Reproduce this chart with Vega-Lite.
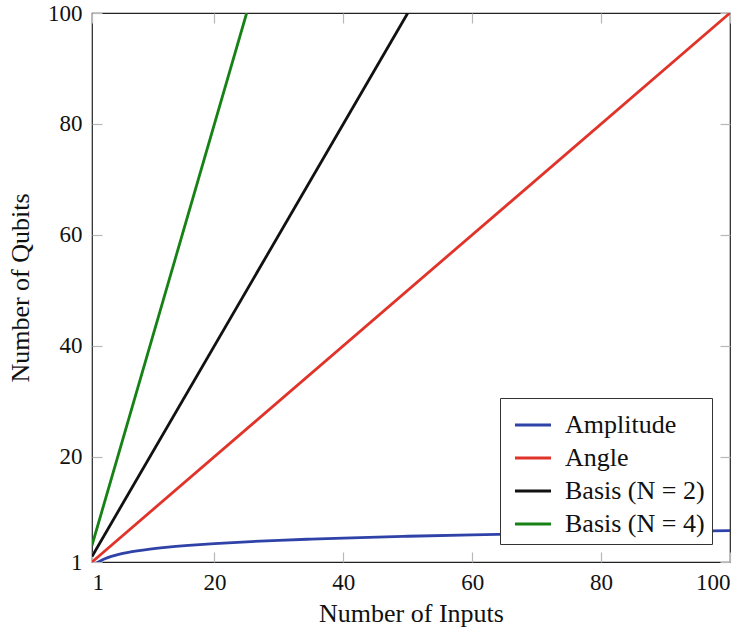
{
  "$schema": "https://vega.github.io/schema/vega-lite/v6.json",
  "autosize": "none",
  "width": 638,
  "height": 549,
  "padding": {"left": 92, "top": 13, "right": 19, "bottom": 69},
  "background": "white",
  "config": {
    "view": {"stroke": "#222", "strokeWidth": 1.2},
    "font": "Liberation Serif",
    "axis": {
      "domain": false,
      "grid": false,
      "tickColor": "#b8b8b8",
      "tickWidth": 1.2,
      "tickSize": -10,
      "labelFont": "Liberation Serif",
      "labelFontSize": 23,
      "labelColor": "#111",
      "titleFont": "Liberation Serif",
      "titleFontSize": 26,
      "titleFontWeight": "normal",
      "titleColor": "#111"
    }
  },
  "data": {"values": [
    {"series": "Amplitude", "n": 1, "q": 0},
    {"series": "Amplitude", "n": 1.5, "q": 0.585},
    {"series": "Amplitude", "n": 2, "q": 1},
    {"series": "Amplitude", "n": 2.5, "q": 1.322},
    {"series": "Amplitude", "n": 3, "q": 1.585},
    {"series": "Amplitude", "n": 4, "q": 2},
    {"series": "Amplitude", "n": 5, "q": 2.322},
    {"series": "Amplitude", "n": 6, "q": 2.585},
    {"series": "Amplitude", "n": 7, "q": 2.807},
    {"series": "Amplitude", "n": 8, "q": 3},
    {"series": "Amplitude", "n": 10, "q": 3.322},
    {"series": "Amplitude", "n": 12, "q": 3.585},
    {"series": "Amplitude", "n": 14, "q": 3.807},
    {"series": "Amplitude", "n": 16, "q": 4},
    {"series": "Amplitude", "n": 20, "q": 4.322},
    {"series": "Amplitude", "n": 25, "q": 4.644},
    {"series": "Amplitude", "n": 30, "q": 4.907},
    {"series": "Amplitude", "n": 35, "q": 5.129},
    {"series": "Amplitude", "n": 40, "q": 5.322},
    {"series": "Amplitude", "n": 50, "q": 5.644},
    {"series": "Amplitude", "n": 60, "q": 5.907},
    {"series": "Amplitude", "n": 70, "q": 6.129},
    {"series": "Amplitude", "n": 80, "q": 6.322},
    {"series": "Amplitude", "n": 90, "q": 6.492},
    {"series": "Amplitude", "n": 100, "q": 6.644},
    {"series": "Angle", "n": 1, "q": 1},
    {"series": "Angle", "n": 100, "q": 100},
    {"series": "Basis (N = 2)", "n": 1, "q": 2},
    {"series": "Basis (N = 2)", "n": 50, "q": 100},
    {"series": "Basis (N = 4)", "n": 1, "q": 4},
    {"series": "Basis (N = 4)", "n": 25, "q": 100}
  ]},
  "resolve": {"axis": {"x": "independent", "y": "independent"}},
  "layer": [
    {
      "mark": {"type": "line", "clip": true, "strokeWidth": 2.8, "interpolate": "monotone"},
      "encoding": {
        "x": {"field": "n", "type": "quantitative",
              "scale": {"domain": [1, 100], "nice": false, "zero": false},
              "axis": {"values": [1, 20, 40, 60, 80, 100], "title": "Number of Inputs", "labelPadding": 19, "titlePadding": 6}},
        "y": {"field": "q", "type": "quantitative",
              "scale": {"domain": [1, 100], "nice": false, "zero": false},
              "axis": {"values": [1, 20, 40, 60, 80, 100], "title": "Number of Qubits", "labelPadding": 20, "titlePadding": 14}},
        "color": {"field": "series", "type": "nominal",
                  "scale": {"domain": ["Amplitude", "Angle", "Basis (N = 2)", "Basis (N = 4)"],
                            "range": ["#2f42a8", "#e0332a", "#111111", "#168216"]},
                  "legend": {
                    "title": null,
                    "orient": "bottom-right",
                    "offset": 18,
                    "direction": "vertical",
                    "fillColor": "white",
                    "strokeColor": "#333",
                    "padding": 7,
                    "symbolType": "stroke",
                    "symbolSize": 1300,
                    "symbolStrokeWidth": 3,
                    "symbolOffset": 6,
                    "labelFont": "Liberation Serif",
                    "labelFontSize": 26,
                    "labelColor": "#111",
                    "labelOffset": 12,
                    "rowPadding": 0,
                    "labelLimit": 300
                  }}
      }
    },
    {
      "mark": {"type": "line", "opacity": 0},
      "encoding": {
        "x": {"field": "n", "type": "quantitative",
              "scale": {"domain": [1, 100], "nice": false, "zero": false},
              "axis": {"orient": "top", "values": [1, 20, 40, 60, 80, 100], "labels": false, "title": null}},
        "y": {"field": "q", "type": "quantitative",
              "scale": {"domain": [1, 100], "nice": false, "zero": false},
              "axis": {"orient": "right", "values": [1, 20, 40, 60, 80, 100], "labels": false, "title": null}},
        "detail": {"field": "series"}
      }
    }
  ]
}
